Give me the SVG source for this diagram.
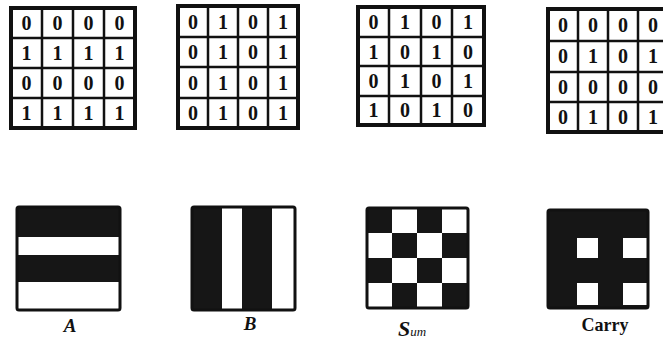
<svg xmlns="http://www.w3.org/2000/svg" width="663" height="343" viewBox="0 0 663 343">
<style>
.outer{fill:#fff;stroke:#111;stroke-width:4}
.inner{stroke:#111;stroke-width:2.5;fill:none}
.d{font-family:"Liberation Serif",serif;font-size:20px;font-weight:bold;fill:#111;text-anchor:middle}
.dk{fill:#161616}
.box{fill:none;stroke:#111;stroke-width:3}
.lbl{font-family:"Liberation Serif",serif;fill:#111;font-weight:bold}
</style>
<rect width="663" height="343" fill="#fff"/>

<g id="tableA">
<rect class="outer" x="11" y="8" width="124" height="120"/>
<path class="inner" d="M42 8V128M73 8V128M104 8V128M11 38H135M11 68H135M11 98H135"/>
<text class="d" x="26.5" y="30">0</text><text class="d" x="57.5" y="30">0</text><text class="d" x="88.5" y="30">0</text><text class="d" x="119.5" y="30">0</text>
<text class="d" x="26.5" y="60">1</text><text class="d" x="57.5" y="60">1</text><text class="d" x="88.5" y="60">1</text><text class="d" x="119.5" y="60">1</text>
<text class="d" x="26.5" y="90">0</text><text class="d" x="57.5" y="90">0</text><text class="d" x="88.5" y="90">0</text><text class="d" x="119.5" y="90">0</text>
<text class="d" x="26.5" y="120">1</text><text class="d" x="57.5" y="120">1</text><text class="d" x="88.5" y="120">1</text><text class="d" x="119.5" y="120">1</text>
</g>

<g id="tableB">
<rect class="outer" x="178" y="6" width="120" height="122"/>
<path class="inner" d="M208 6V128M238 6V128M268 6V128M178 37H298M178 67H298M178 98H298"/>
<text class="d" x="193" y="29">0</text><text class="d" x="223" y="29">1</text><text class="d" x="253" y="29">0</text><text class="d" x="283" y="29">1</text>
<text class="d" x="193" y="59">0</text><text class="d" x="223" y="59">1</text><text class="d" x="253" y="59">0</text><text class="d" x="283" y="59">1</text>
<text class="d" x="193" y="90">0</text><text class="d" x="223" y="90">1</text><text class="d" x="253" y="90">0</text><text class="d" x="283" y="90">1</text>
<text class="d" x="193" y="120">0</text><text class="d" x="223" y="120">1</text><text class="d" x="253" y="120">0</text><text class="d" x="283" y="120">1</text>
</g>

<g id="tableSum">
<rect class="outer" x="358" y="7" width="126" height="118"/>
<path class="inner" d="M389 7V125M421 7V125M452 7V125M358 37H484M358 66H484M358 96H484"/>
<text class="d" x="373.5" y="29">0</text><text class="d" x="405" y="29">1</text><text class="d" x="436.5" y="29">0</text><text class="d" x="468" y="29">1</text>
<text class="d" x="373.5" y="59">1</text><text class="d" x="405" y="59">0</text><text class="d" x="436.5" y="59">1</text><text class="d" x="468" y="59">0</text>
<text class="d" x="373.5" y="88">0</text><text class="d" x="405" y="88">1</text><text class="d" x="436.5" y="88">0</text><text class="d" x="468" y="88">1</text>
<text class="d" x="373.5" y="117">1</text><text class="d" x="405" y="117">0</text><text class="d" x="436.5" y="117">1</text><text class="d" x="468" y="117">0</text>
</g>

<g id="tableCarry">
<rect class="outer" x="548" y="9" width="122" height="123"/>
<path class="inner" d="M578 9V132M608 9V132M638 9V132M548 41H670M548 72H670M548 102H670"/>
<text class="d" x="563" y="32">0</text><text class="d" x="593" y="32">0</text><text class="d" x="623" y="32">0</text><text class="d" x="653" y="32">0</text>
<text class="d" x="563" y="63">0</text><text class="d" x="593" y="63">1</text><text class="d" x="623" y="63">0</text><text class="d" x="653" y="63">1</text>
<text class="d" x="563" y="94">0</text><text class="d" x="593" y="94">0</text><text class="d" x="623" y="94">0</text><text class="d" x="653" y="94">0</text>
<text class="d" x="563" y="124">0</text><text class="d" x="593" y="124">1</text><text class="d" x="623" y="124">0</text><text class="d" x="653" y="124">1</text>
</g>

<g id="patternA">
<rect fill="#fff" x="17" y="207" width="103" height="103"/>
<rect class="dk" x="17" y="207" width="103" height="30"/>
<rect class="dk" x="17" y="255" width="103" height="27"/>
<rect class="box" x="17" y="207" width="103" height="103" rx="2"/>
<text class="lbl" x="70" y="332" font-size="19" font-style="italic" text-anchor="middle">A</text>
</g>

<g id="patternB">
<rect fill="#fff" x="192" y="207" width="103" height="103"/>
<rect class="dk" x="192" y="207" width="30" height="103"/>
<rect class="dk" x="242" y="207" width="30" height="103"/>
<rect class="box" x="192" y="207" width="103" height="103" rx="2"/>
<text class="lbl" x="250" y="330" font-size="19" font-style="italic" text-anchor="middle">B</text>
</g>

<g id="patternSum">
<rect fill="#fff" x="367" y="208" width="101" height="100"/>
<path class="dk" d="M367 208h25v25h-25zM417 208h25v25h-25zM392 233h25v25h-25zM442 233h26v25h-26zM367 258h25v25h-25zM417 258h25v25h-25zM392 283h25v25h-25zM442 283h26v25h-26z"/>
<rect class="box" x="367" y="208" width="101" height="100" rx="2"/>
<text class="lbl" x="398" y="336" font-size="22" font-style="italic">S<tspan font-size="13" font-weight="normal">um</tspan></text>
</g>

<g id="patternCarry">
<rect class="dk" x="548" y="210" width="100" height="98"/>
<rect fill="#fff" x="577" y="238" width="21" height="20"/>
<rect fill="#fff" x="623" y="238" width="24" height="20"/>
<rect fill="#fff" x="577" y="283" width="21" height="22"/>
<rect fill="#fff" x="623" y="283" width="24" height="22"/>
<rect class="box" x="548" y="210" width="100" height="98" rx="2"/>
<text class="lbl" x="605" y="331" font-size="18" text-anchor="middle">Carry</text>
</g>
</svg>
